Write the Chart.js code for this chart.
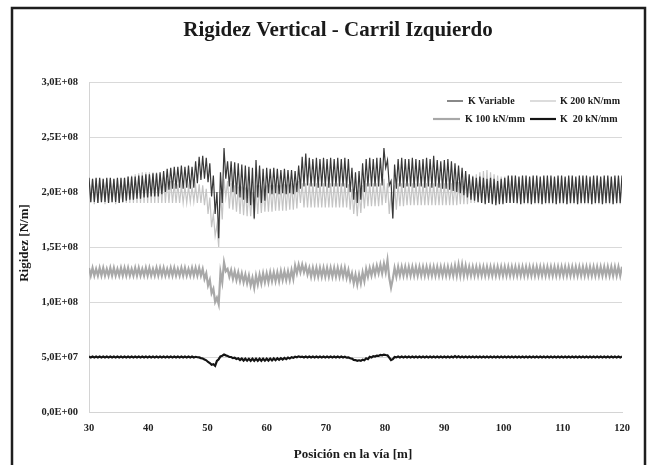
<!DOCTYPE html>
<html>
<head>
<meta charset="utf-8">
<script src="https://cdn.jsdelivr.net/npm/chart.js@4.4.1/dist/chart.umd.min.js"></script>
<style>
  html, body { margin: 0; background: #fff; }
  canvas { display: block; }
</style>
</head>
<body>
<canvas id="myChart" width="654" height="465"></canvas>
<script>
// values, in 1E+06 N/m, one peak and one trough per sleeper (0.6 m)
const startPos = 30;
const sleeperStep = 0.6;
const xTicks = [30, 40, 50, 60, 70, 80, 90, 100, 110, 120];

const kVarPeaks = [
  213,212,213,213,212,213,213,212,213,213,
  213,214,214,214,215,215,216,216,217,217,
  218,219,221,222,223,223,224,223,224,223,
  228,232,233,231,226,215,200,218,240,228,
  228,227,226,225,224,223,222,229,224,221,
  222,221,222,221,220,221,220,220,219,224,
  232,235,231,230,231,230,231,230,231,230,
  231,230,231,230,222,218,219,226,230,231,
  230,231,231,240,229,210,225,230,231,230,
  230,231,230,229,230,231,230,233,229,228,
  229,230,228,226,224,222,219,216,214,213,
  214,213,212,213,212,210,212,213,215,215,
  215,214,215,215,214,215,215,214,215,215,
  215,214,215,215,214,215,215,214,215,215,
  215,214,215,215,214,215,215,214,215,215
];
const kVarTroughs = [
  191,191,190,191,191,190,191,191,190,191,
  192,193,193,194,194,195,195,196,196,196,
  198,200,202,203,203,204,203,204,203,204,
  208,211,212,209,196,180,158,190,212,205,
  200,198,195,193,190,188,176,195,190,192,
  199,198,199,198,199,198,199,198,200,203,
  205,206,205,205,204,205,205,204,205,205,
  205,205,204,200,193,190,193,200,205,205,
  205,205,206,222,206,176,203,205,204,205,
  205,204,205,205,204,205,204,205,204,203,
  203,202,201,200,199,197,195,193,192,191,
  190,189,190,189,188,189,189,190,190,190,
  190,189,190,190,189,190,190,189,190,190,
  190,189,190,190,189,190,190,189,190,190,
  190,189,190,190,189,190,190,189,190,190
];

const k200Peaks = [
  212,212,212,212,212,212,212,212,212,212,
  213,214,215,216,217,218,218,218,218,218,
  216,214,212,210,208,207,206,205,205,205,
  206,207,206,203,195,180,170,200,212,210,
  208,206,205,205,204,204,200,206,206,205,
  206,206,206,206,206,207,207,208,208,210,
  208,208,208,208,208,208,208,208,208,208,
  208,208,208,207,203,200,202,206,208,208,
  208,208,208,212,208,200,206,208,208,208,
  208,208,208,208,208,208,208,208,208,208,
  208,208,208,209,209,210,212,214,215,216,
  218,219,220,218,216,215,214,214,214,214,
  213,213,213,213,213,213,213,213,213,213,
  213,213,213,213,213,213,213,213,213,213,
  213,213,213,213,213,213,213,213,213,213
];
const k200Troughs = [
  190,189,190,190,189,190,190,189,190,190,
  190,190,190,190,190,190,190,190,190,190,
  190,190,190,190,190,190,190,190,191,191,
  190,190,188,180,168,160,150,175,195,185,
  184,182,180,179,178,178,175,180,181,182,
  182,182,183,183,183,183,184,184,185,190,
  186,186,186,186,186,186,186,186,186,186,
  186,186,186,184,180,178,181,185,187,187,
  187,187,188,190,180,176,184,187,187,188,
  188,188,188,188,188,188,188,188,188,188,
  188,188,188,188,189,189,189,190,190,190,
  190,190,190,190,190,190,190,190,190,190,
  189,189,189,189,189,189,189,189,189,189,
  189,189,189,189,189,189,189,189,189,189,
  189,189,189,189,189,189,189,189,189,189
];

const k100Peaks = [
  131,131,130,131,131,130,131,131,130,131,
  131,131,130,131,131,130,131,131,130,131,
  131,131,130,131,131,130,131,131,130,131,
  131,131,130,126,120,112,104,127,136,130,
  129,128,127,126,125,124,122,124,125,126,
  126,127,127,127,128,128,128,129,133,134,
  134,133,131,131,131,131,131,131,131,131,
  131,131,131,129,126,125,125,127,130,131,
  132,133,134,135,138,113,131,132,132,132,
  132,132,132,132,132,132,132,132,132,132,
  132,132,132,133,134,134,133,132,132,132,
  132,132,132,132,132,132,132,132,132,132,
  132,132,132,132,132,132,132,132,132,132,
  132,132,132,132,132,132,132,132,132,132,
  132,132,132,132,132,132,132,132,132,132
];
const k100Troughs = [
  124,124,124,124,124,124,124,124,124,124,
  124,124,124,124,124,124,124,124,124,124,
  124,124,124,124,124,124,124,124,124,124,
  124,124,121,115,108,100,98,118,128,123,
  121,120,119,118,117,115,113,116,117,118,
  118,119,119,119,120,120,120,121,126,127,
  127,125,123,123,123,123,123,123,123,123,
  123,123,122,120,117,116,117,119,123,124,
  125,126,126,127,122,121,123,124,124,124,
  124,124,124,124,124,124,124,124,124,124,
  124,124,124,124,124,124,124,124,124,124,
  124,124,124,124,124,124,124,124,124,124,
  124,124,124,124,124,124,124,124,124,124,
  124,124,124,124,124,124,124,124,124,124,
  124,124,124,124,124,124,124,124,124,124
];

const k20Peaks = [
  50.4,50.4,50.4,50.4,50.4,50.4,50.4,50.4,50.4,50.4,
  50.4,50.4,50.4,50.4,50.4,50.4,50.4,50.4,50.4,50.4,
  50.4,50.4,50.4,50.4,50.4,50.4,50.4,50.4,50.4,50.4,
  50.2,49.6,48.6,47.0,44.5,43.5,46.5,50.5,52.2,51.0,
  50.0,49.3,48.8,48.6,48.5,48.4,48.4,48.4,48.4,48.5,
  48.5,48.6,48.7,48.8,49.0,49.2,49.5,49.8,50.2,50.6,
  50.4,50.4,50.4,50.4,50.4,50.4,50.4,50.4,50.4,50.4,
  50.4,50.4,50.2,49.7,48.5,47.2,47.0,47.6,48.8,50.2,
  50.8,51.3,51.8,52.2,51.5,47.2,50.0,50.4,50.4,50.4,
  50.4,50.4,50.4,50.4,50.4,50.4,50.4,50.4,50.4,50.4,
  50.4,50.4,50.5,50.8,50.6,50.4,50.4,50.4,50.4,50.4,
  50.4,50.4,50.4,50.4,50.4,50.4,50.4,50.4,50.4,50.4,
  50.4,50.4,50.4,50.4,50.4,50.4,50.4,50.4,50.4,50.4,
  50.4,50.4,50.4,50.4,50.4,50.4,50.4,50.4,50.4,50.4,
  50.4,50.4,50.4,50.4,50.4,50.4,50.4,50.4,50.4,50.4
];
const k20Troughs = [
  49.6,49.6,49.6,49.6,49.6,49.6,49.6,49.6,49.6,49.6,
  49.6,49.6,49.6,49.6,49.6,49.6,49.6,49.6,49.6,49.6,
  49.6,49.6,49.6,49.6,49.6,49.6,49.6,49.6,49.6,49.6,
  49.8,49.0,47.8,45.5,43.0,42.0,48.0,51.2,51.5,50.0,
  49.0,48.2,47.3,46.8,46.7,46.6,46.6,46.6,46.6,46.7,
  46.8,46.9,47.1,47.4,47.7,48.1,48.6,49.2,49.7,50.0,
  49.6,49.6,49.6,49.6,49.6,49.6,49.6,49.6,49.6,49.6,
  49.6,49.6,49.4,48.8,47.4,46.5,46.5,47.0,48.0,49.6,
  50.4,51.0,51.5,51.8,49.5,48.0,49.6,49.6,49.6,49.6,
  49.6,49.6,49.6,49.6,49.6,49.6,49.6,49.6,49.6,49.6,
  49.6,49.6,49.6,49.6,49.6,49.6,49.6,49.6,49.6,49.6,
  49.6,49.6,49.6,49.6,49.6,49.6,49.6,49.6,49.6,49.6,
  49.6,49.6,49.6,49.6,49.6,49.6,49.6,49.6,49.6,49.6,
  49.6,49.6,49.6,49.6,49.6,49.6,49.6,49.6,49.6,49.6,
  49.6,49.6,49.6,49.6,49.6,49.6,49.6,49.6,49.6,49.6
];

// peak at each sleeper, trough half a sleeper later
function toPoints(peaks, troughs) {
  const pts = [];
  for (let i = 0; i < peaks.length; i++) {
    const x = startPos + i * sleeperStep;
    pts.push({ x: +x.toFixed(2), y: peaks[i] * 1e6 });
    pts.push({ x: +(x + sleeperStep / 2).toFixed(2), y: troughs[i] * 1e6 });
  }
  pts.push({ x: 120, y: peaks[peaks.length - 1] * 1e6 });
  return pts;
}

function sciLabel(v) {
  const [m, e] = Number(v).toExponential(1).split('e');
  const n = Math.abs(parseInt(e, 10));
  return m.replace('.', ',') + 'E' + (e[0] === '-' ? '-' : '+') + String(n).padStart(2, '0');
}

const serif = "'Liberation Serif', 'DejaVu Serif', serif";

const series = [
  { label: 'K Variable', peaks: kVarPeaks, troughs: kVarTroughs, color: '#383838', width: 1.2, order: 1 },
  { label: 'K 200 kN/mm', peaks: k200Peaks, troughs: k200Troughs, color: '#c4c4c4', width: 1.2, order: 2 },
  { label: 'K 100 kN/mm', peaks: k100Peaks, troughs: k100Troughs, color: '#a8a8a8', width: 2.2, order: 3 },
  { label: 'K  20 kN/mm', peaks: k20Peaks, troughs: k20Troughs, color: '#141414', width: 2.2, order: 4 }
];

// title, axis titles, legend and frame drawn by hand
const decorPlugin = {
  id: 'decor',
  beforeDraw(chart) {
    const ctx = chart.ctx;
    ctx.save();
    ctx.fillStyle = '#fff';
    ctx.fillRect(0, 0, chart.width, chart.height);
    ctx.restore();
  },
  afterDraw(chart) {
    const ctx = chart.ctx;
    ctx.save();
    ctx.fillStyle = '#1a1a1a';
    ctx.textBaseline = 'middle';
    ctx.textAlign = 'center';

    ctx.font = 'bold 21px ' + serif;
    ctx.fillText('Rigidez Vertical - Carril Izquierdo', 338, 31);

    ctx.font = 'bold 13px ' + serif;
    ctx.fillText('Posición en la vía [m]', 353, 455);

    ctx.save();
    ctx.translate(25, 243);
    ctx.rotate(-Math.PI / 2);
    ctx.fillText('Rigidez [N/m]', 0, 0);
    ctx.restore();

    // legend
    const items = [
      { s: series[0], x0: 447, x1: 463, tx: 468, y: 101 },
      { s: series[1], x0: 530, x1: 556, tx: 560, y: 101 },
      { s: series[2], x0: 433, x1: 460, tx: 465, y: 119 },
      { s: series[3], x0: 530, x1: 556, tx: 560, y: 119 }
    ];
    ctx.font = 'bold 10px ' + serif;
    ctx.textAlign = 'left';
    items.forEach(it => {
      ctx.strokeStyle = it.s.color;
      ctx.lineWidth = it.s.width;
      ctx.beginPath();
      ctx.moveTo(it.x0, it.y);
      ctx.lineTo(it.x1, it.y);
      ctx.stroke();
      ctx.fillStyle = '#1a1a1a';
      ctx.fillText(it.s.label, it.tx, it.y + 0.5);
    });

    // outer frame
    ctx.strokeStyle = '#1e1e1e';
    ctx.lineWidth = 2.5;
    ctx.beginPath();
    ctx.moveTo(12, 470);
    ctx.lineTo(12, 8);
    ctx.lineTo(645, 8);
    ctx.lineTo(645, 470);
    ctx.stroke();
    ctx.restore();
  }
};

const ctx = document.getElementById('myChart').getContext('2d');
const myChart = new Chart(ctx, {
  type: 'line',
  data: {
    datasets: series.map(s => ({
      label: s.label,
      data: toPoints(s.peaks, s.troughs),
      borderColor: s.color,
      borderWidth: s.width,
      pointRadius: 0,
      tension: 0,
      fill: false,
      order: s.order
    }))
  },
  options: {
    responsive: false,
    animation: false,
    layout: { padding: { left: 0, right: 32, top: 82, bottom: 0 } },
    plugins: {
      legend: { display: false },
      title: { display: false },
      tooltip: { enabled: false }
    },
    scales: {
      x: {
        type: 'linear',
        min: 30,
        max: 120,
        afterBuildTicks: scale => { scale.ticks = xTicks.map(v => ({ value: v })); },
        afterFit: scale => { scale.height = 53; },
        grid: { drawOnChartArea: false, drawTicks: false },
        border: { display: true, color: '#d4d4d4', width: 1 },
        ticks: {
          padding: 10,
          color: '#222',
          font: { family: serif, size: 10.5, weight: 'bold' },
          maxRotation: 0
        }
      },
      y: {
        min: 0,
        max: 3e8,
        afterFit: scale => { scale.width = 89; },
        grid: { color: '#d9d9d9', lineWidth: 1, drawTicks: false },
        border: { display: true, color: '#d4d4d4', width: 1 },
        ticks: {
          stepSize: 5e7,
          padding: 11,
          color: '#222',
          font: { family: serif, size: 10.5, weight: 'bold' },
          callback: v => sciLabel(v)
        }
      }
    }
  },
  plugins: [decorPlugin]
});
</script>
</body>
</html>
